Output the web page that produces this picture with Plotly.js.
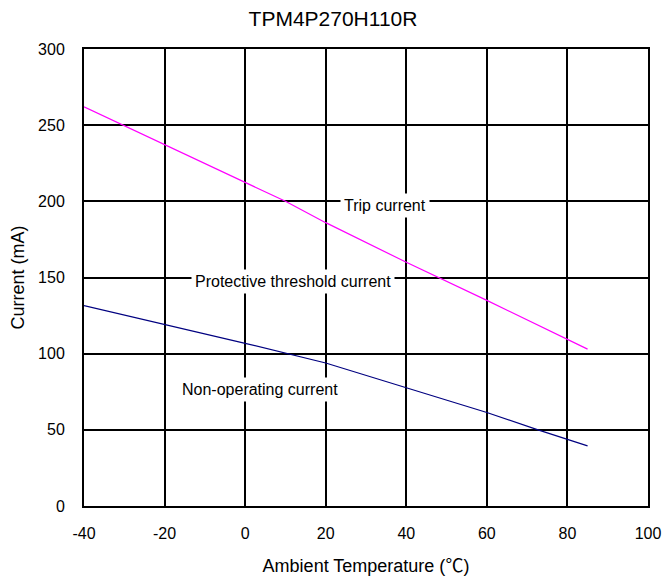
<!DOCTYPE html>
<html>
<head>
<meta charset="utf-8">
<script src="https://cdn.plot.ly/plotly-3.0.1.min.js"></script>
<style>html,body{margin:0;padding:0;background:#fff;}#chart{width:666px;height:581px;}</style>
</head>
<body>
<div id="chart"></div>
<script>
const temps = [-40, -20, 0, 10, 20, 40, 60, 80, 85];
const tripCurrent = [262, 237, 212, 200, 186, 160, 135, 109, 103];
const nonOpTemps = [-40, -20, 0, 20, 40, 60, 72.7, 80, 85];
const nonOpCurrent = [131.5, 119.3, 106.8, 93.9, 77.8, 61.4, 50, 43.6, 39.5];
const labels = ["Trip current", "Protective threshold current", "Non-operating current"];
const labelX = [34.7, 11.9, 3.7];
const labelY = [197, 147.5, 76.5];
const xTicks = [-40, -20, 0, 20, 40, 60, 80, 100];
const yTicks = [0, 50, 100, 150, 200, 250, 300];

const font = "Liberation Sans, Arial, sans-serif";
const traces = [
  {x: temps, y: tripCurrent, mode: "lines", line: {color: "#ff00ff", width: 1.2}, hoverinfo: "skip"},
  {x: nonOpTemps, y: nonOpCurrent, mode: "lines", line: {color: "#000080", width: 1.2}, hoverinfo: "skip"}
];
const annotations = labels.map((t, i) => ({
  x: labelX[i], y: labelY[i], xref: "x", yref: "y", text: t, showarrow: false,
  bgcolor: "#ffffff", borderpad: 3, font: {family: font, size: 16, color: "#000"}
}));
const layout = {
  width: 666, height: 581,
  margin: {l: 84, r: 18, t: 49, b: 75},
  paper_bgcolor: "#fff", plot_bgcolor: "#fff",
  showlegend: false,
  font: {family: font, color: "#000"},
  title: {text: "TPM4P270H110R", font: {family: font, size: 21, color: "#000"}, x: 0.5, xanchor: "center", y: 0.968, yanchor: "middle"},
  xaxis: {
    range: [-40, 100], tickvals: xTicks, ticktext: xTicks.map(String),
    showgrid: true, gridcolor: "#000", gridwidth: 2,
    showline: true, linecolor: "#000", linewidth: 2, mirror: true,
    zeroline: false, ticks: "", ticklabelstandoff: 12,
    tickfont: {family: font, size: 16, color: "#000"},
    title: {text: "Ambient Temperature (<span style=\"font-family:'Noto Sans CJK SC'\">℃</span>)", font: {family: font, size: 18, color: "#000"}, standoff: 18}
  },
  yaxis: {
    range: [0, 300], tickvals: yTicks, ticktext: yTicks.map(String),
    showgrid: true, gridcolor: "#000", gridwidth: 2,
    showline: true, linecolor: "#000", linewidth: 2, mirror: true,
    zeroline: false, ticks: "", ticklabelstandoff: 14,
    tickfont: {family: font, size: 16, color: "#000"},
    title: {text: "Current (mA)", font: {family: font, size: 18, color: "#000"}, standoff: 9}
  },
  annotations: annotations
};
Plotly.newPlot("chart", traces, layout, {displayModeBar: false, staticPlot: true});
</script>
</body>
</html>
